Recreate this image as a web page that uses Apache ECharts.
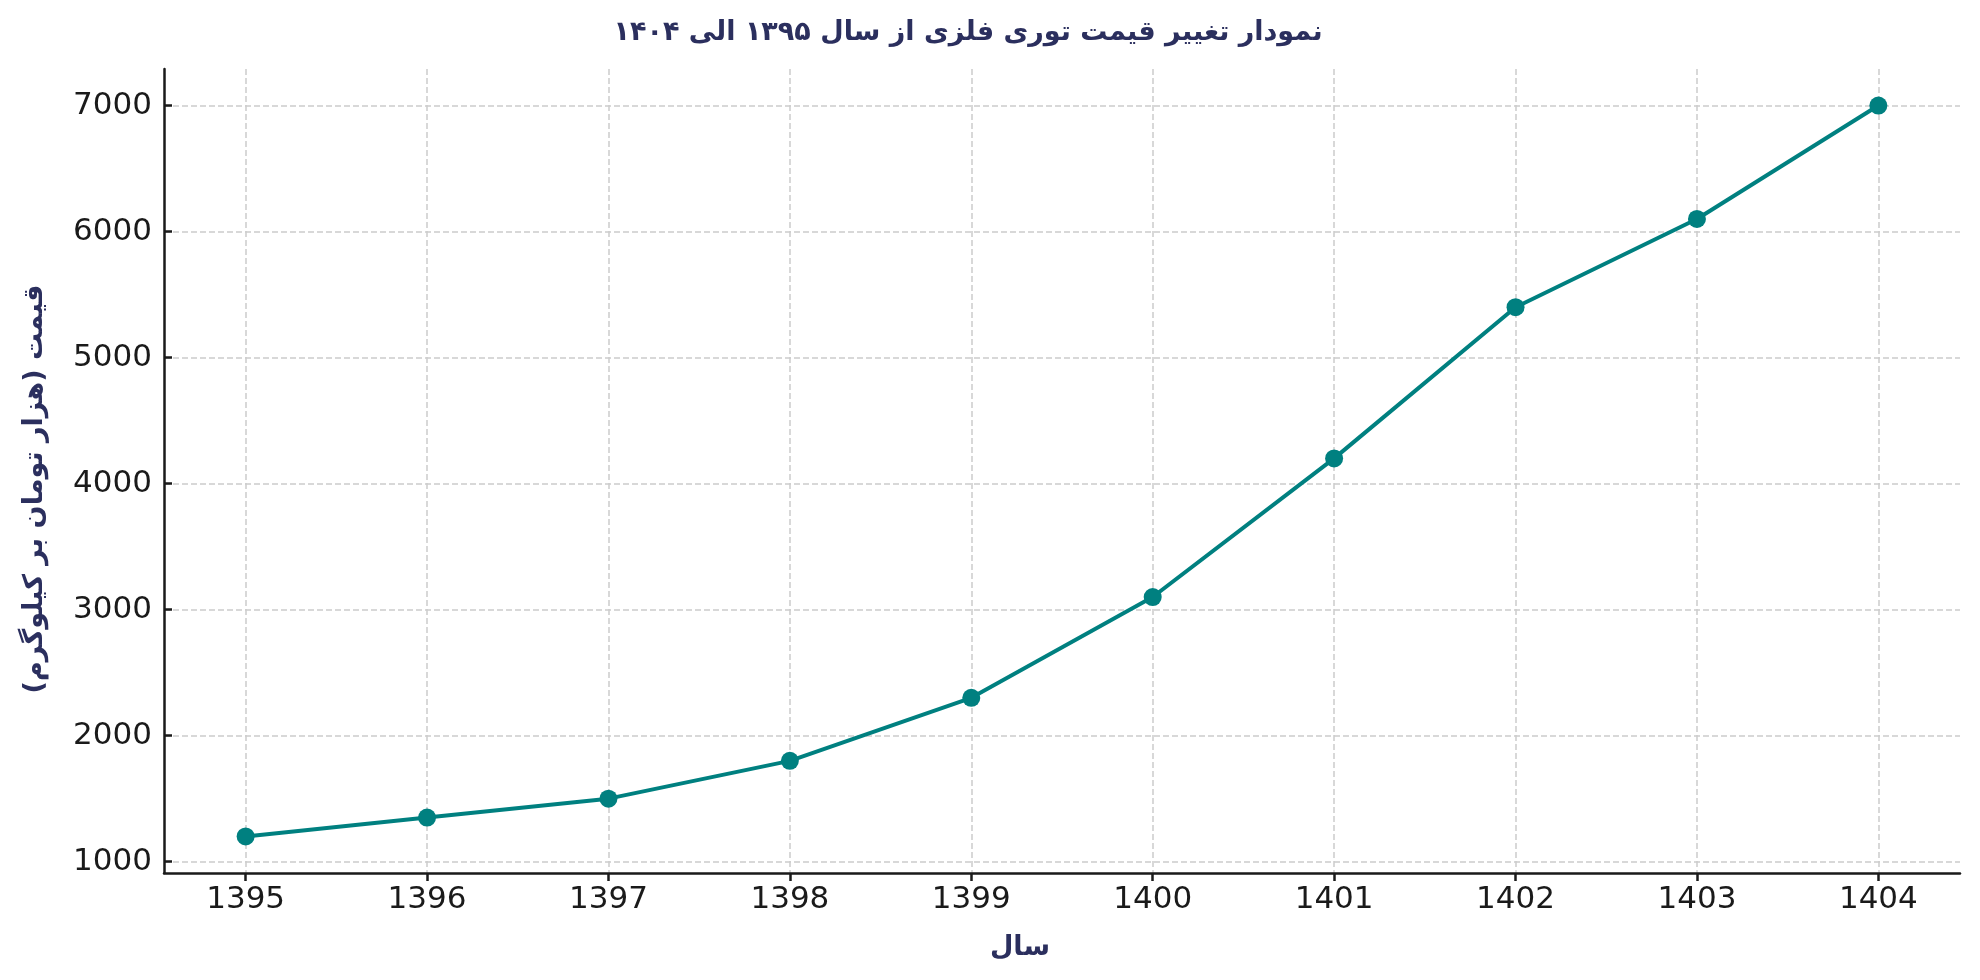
<!DOCTYPE html>
<html>
<head>
<meta charset="utf-8">
<script src="https://cdn.jsdelivr.net/npm/echarts@6/dist/echarts.min.js"></script>
<style>
html,body{margin:0;padding:0;background:#fff;}
#chart{width:1980px;height:980px;}
</style>
</head>
<body>
<div id="chart"></div>
<script>
const years = [1395, 1396, 1397, 1398, 1399, 1400, 1401, 1402, 1403, 1404];
const prices = [1200, 1350, 1500, 1800, 2300, 3100, 4200, 5400, 6100, 7000];
const yTicks = [1000, 2000, 3000, 4000, 5000, 6000, 7000];
const titleText = 'نمودار تغییر قیمت توری فلزی از سال ۱۳۹۵ الی ۱۴۰۴';
const xName = 'سال';
const yName = 'قیمت (هزار تومان بر کیلوگرم)';

const chart = echarts.init(document.getElementById('chart'));
const navy = '#2b2f5e';
const axisColor = '#1a1a1a';
const gridStyle = {show: true, lineStyle: {color: '#cccccc', width: 1.5, type: [6, 3]}};

chart.setOption({
  animation: false,
  backgroundColor: '#ffffff',
  title: {
    text: titleText,
    left: 963,
    textAlign: 'center',
    top: 14,
    textStyle: {fontFamily: 'DejaVu Sans', fontWeight: 'bold', fontSize: 27, color: navy}
  },
  grid: {left: 164, right: 20, top: 69, bottom: 107, containLabel: false},
  xAxis: {
    type: 'value',
    min: 1394.55,
    max: 1404.45,
    name: xName,
    nameLocation: 'middle',
    nameGap: 61,
    nameTextStyle: {fontFamily: 'DejaVu Sans', fontWeight: 'bold', fontSize: 27, color: navy, padding: [0, 84, 0, 0]},
    axisLine: {show: true, onZero: false, lineStyle: {color: axisColor, width: 2.5}},
    axisTick: {show: true, inside: false, length: 8, lineStyle: {color: axisColor, width: 2.5}, customValues: years},
    axisLabel: {customValues: years, margin: 11, fontFamily: 'DejaVu Sans', fontSize: 31, color: '#1a1a1a', formatter: v => String(v)},
    splitLine: gridStyle
  },
  yAxis: {
    type: 'value',
    min: 910,
    max: 7290,
    name: yName,
    nameLocation: 'middle',
    nameRotate: 90,
    nameGap: 116,
    nameTextStyle: {fontFamily: 'DejaVu Sans', fontWeight: 'bold', fontSize: 27, color: navy, padding: [0, 36, 0, 0]},
    axisLine: {show: true, onZero: false, lineStyle: {color: axisColor, width: 2.5}},
    axisTick: {show: true, inside: true, length: 8, lineStyle: {color: axisColor, width: 2.5}, customValues: yTicks},
    axisLabel: {customValues: yTicks, margin: 12, fontFamily: 'DejaVu Sans', fontSize: 31, color: '#1a1a1a', formatter: v => String(v)},
    splitLine: gridStyle
  },
  series: [{
    type: 'line',
    data: years.map((y, i) => [y, prices[i]]),
    symbol: 'circle',
    symbolSize: 18,
    itemStyle: {color: '#008080'},
    lineStyle: {color: '#008080', width: 4},
    z: 5
  }]
});
</script>
</body>
</html>
